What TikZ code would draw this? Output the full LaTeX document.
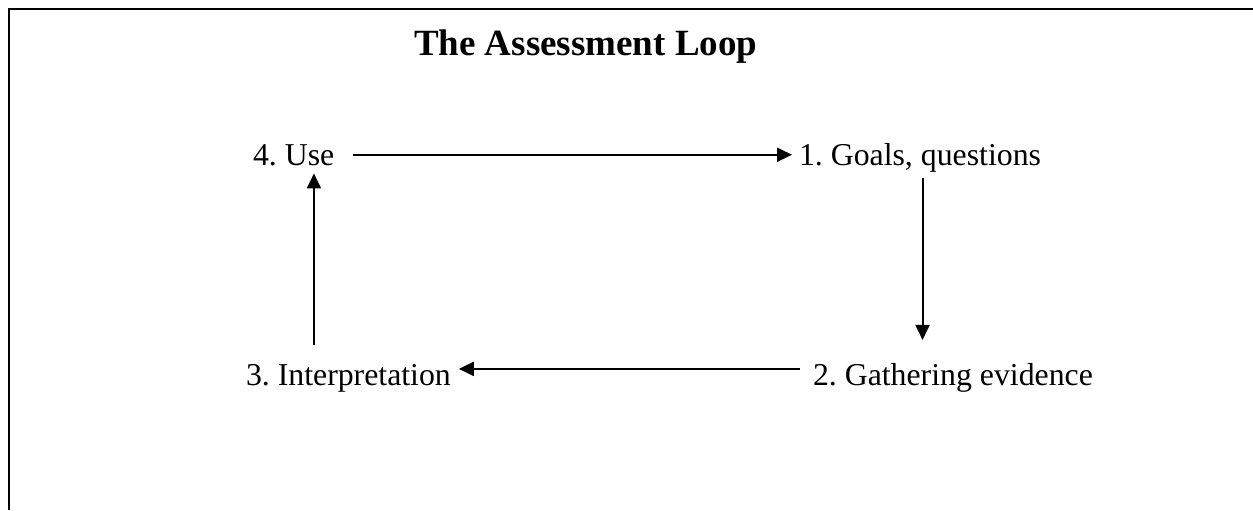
\documentclass[tikz,border=0pt]{standalone}
\usepackage{fontspec}
\setmainfont{Liberation Serif}
\usetikzlibrary{arrows.meta}
\frenchspacing
\tikzset{
  lbl/.style={inner sep=0pt, outer sep=0pt, anchor=base west, font=\fontsize{15.9pt}{19pt}\selectfont},
  ttl/.style={inner sep=0pt, outer sep=0pt, anchor=base west, font=\fontsize{18.5pt}{22pt}\selectfont\bfseries},
  arr/.style={line width=1pt, -{Triangle[length=7.5pt,width=7pt]}},
  frame/.style={line width=1pt}
}
\begin{document}
\begin{tikzpicture}[x=0.5pt,y=-0.5pt]
\useasboundingbox (0,0) rectangle (1253,510);
\draw[frame] (1253,9) -- (9,9) -- (9,510);
\node[ttl] (title) at (414,55) {The Assessment Loop};
\node[lbl] (use) at (253,165) {4. Use};
\node[lbl] (goals) at (799,165) {1. Goals, questions};
\node[lbl] (gather) at (813,385) {2. Gathering evidence};
\node[lbl] (interp) at (246,385) {3. Interpretation};
% 4 -> 1
\draw[arr, shorten <=9.5pt, shorten >=3.5pt] (use.east) -- (use.east -| goals.west);
% 1 -> 2
\coordinate (gs) at ([xshift=1.25pt]goals.south);
\draw[arr, shorten <=3pt, shorten >=11.5pt] (gs) -- (gs |- gather.north);
% 2 -> 3
\coordinate (gw) at ([yshift=4.25pt]gather.west);
\draw[arr, shorten <=6.5pt, shorten >=4pt] (gw) -- (gw -| interp.east);
% 3 -> 4
\coordinate (in) at ([xshift=-17.25pt]interp.north);
\draw[arr, shorten <=9.5pt, shorten >=4pt] (in) -- (in |- use.south);
\end{tikzpicture}
\end{document}
